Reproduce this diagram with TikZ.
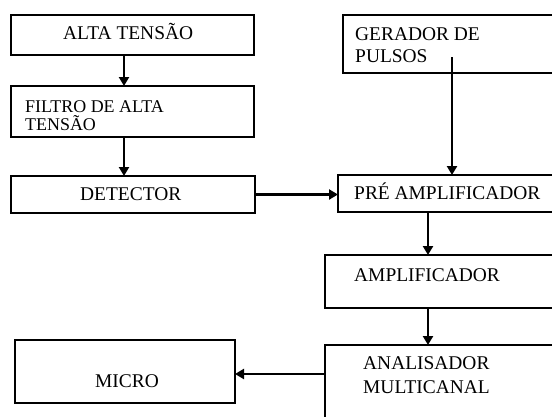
\documentclass[tikz,border=0pt]{standalone}
\usepackage{fontspec}
\setmainfont{Liberation Serif}
\usetikzlibrary{arrows.meta}
\begin{document}
\begin{tikzpicture}[x=1bp,y=-1bp,
  blk/.style={draw,line width=2.8bp,inner sep=0pt,outer sep=0pt},
  lbl/.style={anchor=base west,inner sep=0pt,font=\fontsize{19.5}{22}\selectfont},
  lbls/.style={anchor=base west,inner sep=0pt,font=\fontsize{18}{18}\selectfont},
  conn/.style={line width=2.6bp,-{Triangle[length=9bp,width=10bp]}}]
\useasboundingbox (0,0) rectangle (552,416);
\fill[white] (0,0) rectangle (552,416);
\clip (0,0) rectangle (552,416);
% boxes
\node[blk,minimum width=243bp,minimum height=40bp] (alta) at (132.5,35) {};
\node[blk,minimum width=243bp,minimum height=51bp] (filtro) at (132.5,111.5) {};
\node[blk,minimum width=244bp,minimum height=37bp] (det) at (133,194.5) {};
\node[blk,minimum width=227bp,minimum height=58bp] (ger) at (456.5,44) {};
\node[blk,minimum width=232bp,minimum height=37bp] (pre) at (454,193.5) {};
\node[blk,minimum width=245bp,minimum height=53bp] (amp) at (447.5,281.5) {};
\node[blk,minimum width=245bp,minimum height=85bp] (anal) at (447.5,387.5) {};
\node[blk,minimum width=220bp,minimum height=63bp] (micro) at (125,371.5) {};
% texts
\node[lbl] (taltal) at (63,39) {ALTA TENSÃO};
\node[lbls] (tfil1) at (25,112) {FILTRO DE ALTA};
\node[lbls] (tfil2) at (25,130) {TENSÃO};
\node[lbl] (tdet) at (80,200) {DETECTOR};
\node[lbl] (tger1) at (355,40) {GERADOR DE};
\node[lbl] (tger2) at (355,62) {PULSOS};
\node[lbl] (tpre) at (354,199) {PRÉ AMPLIFICADOR};
\node[lbl] (tamp) at (354,281) {AMPLIFICADOR};
\node[lbl] (tan1) at (363,369) {ANALISADOR};
\node[lbl] (tan2) at (363,393) {MULTICANAL};
\node[lbl] (tmic) at (95,387) {MICRO};
% connectors
\coordinate (xl) at (124,0);
\coordinate (xr) at (428,0);
\coordinate (gstart) at (452,57);
\draw[conn] (alta.south -| xl) -- (filtro.north -| xl);
\draw[conn] (filtro.south -| xl) -- (det.north -| xl);
\draw[conn] (gstart) -- (gstart |- pre.north);
\draw[conn] (det.east) -- (det.east -| pre.west);
\draw[conn] (pre.south -| xr) -- (amp.north -| xr);
\draw[conn] (amp.south -| xr) -- (anal.north -| xr);
\coordinate (ay) at (0,374);
\draw[conn] (anal.west |- ay) -- (micro.east |- ay);
\end{tikzpicture}
\end{document}
